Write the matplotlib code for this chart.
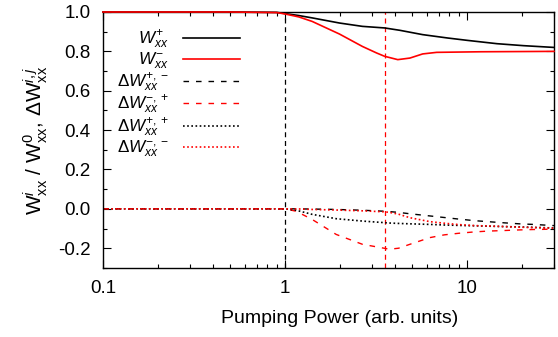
import matplotlib
matplotlib.use('Agg')
import matplotlib.pyplot as plt
from matplotlib.ticker import MultipleLocator, FixedLocator, FixedFormatter

plt.rcParams['font.family'] = ['Liberation Sans', 'DejaVu Sans']
plt.rcParams['mathtext.fontset'] = 'custom'
plt.rcParams['mathtext.rm'] = 'Liberation Sans'
plt.rcParams['mathtext.it'] = 'Liberation Sans:italic'
plt.rcParams['mathtext.sf'] = 'Liberation Sans'

# ── data ─────────────────────────────────────────────────────────────────────
x_wp = [0.1, 0.5, 0.9, 1.0, 1.19, 1.41, 1.99, 2.66, 3.52, 4.27, 5.7, 7.8, 10.0, 14.6, 20.4, 30.0]
w_plus = [1.0, 1.0, 0.998, 0.992, 0.982, 0.97, 0.944, 0.927, 0.919, 0.907, 0.885, 0.868,
          0.856, 0.839, 0.829, 0.820]

x_wm = [0.1, 0.5, 0.9, 1.0, 1.19, 1.41, 1.99, 2.66, 3.18, 3.52, 4.16, 4.85, 5.7, 6.8, 11.9, 30.0]
w_minus = [1.0, 1.0, 0.997, 0.99, 0.975, 0.952, 0.888, 0.825, 0.792, 0.775, 0.758, 0.766,
           0.787, 0.795, 0.798, 0.800]

x_d = [0.1, 0.5, 1.0, 1.15, 1.41, 1.91, 2.66, 3.5, 3.75, 4.2, 4.85, 6.25, 7.5, 9.0, 11.0,
       13.0, 16.0, 19.3, 23.0, 30.0]
dw_pm = [0.0, 0.0, 0.0, 0.0, -0.001, -0.003, -0.007, -0.012, -0.014, -0.018, -0.025, -0.036,
         -0.044, -0.052, -0.060, -0.065, -0.071, -0.076, -0.079, -0.085]
dw_mp = [0.0, 0.0, 0.0, -0.012, -0.054, -0.13, -0.18, -0.2, -0.205, -0.20, -0.18, -0.146,
         -0.132, -0.124, -0.117, -0.113, -0.11, -0.107, -0.105, -0.103]
dw_pp = [0.0, 0.0, 0.0, -0.007, -0.028, -0.05, -0.062, -0.07, -0.072, -0.074, -0.076, -0.079,
         -0.082, -0.084, -0.086, -0.088, -0.09, -0.092, -0.094, -0.097]
dw_mm = [0.0, 0.0, 0.0, 0.0, -0.003, -0.006, -0.010, -0.015, -0.018, -0.027, -0.045, -0.065,
         -0.073, -0.08, -0.085, -0.087, -0.09, -0.093, -0.095, -0.098]

x_vlines = [1.0, 3.52]

labels = [r'$\mathit{W}^{+}_{\mathit{xx}}$',
          r'$\mathit{W}^{-}_{\mathit{xx}}$',
          r'$\mathit{\Delta W}^{+,-}_{\mathit{xx}}$',
          r'$\mathit{\Delta W}^{-,+}_{\mathit{xx}}$',
          r'$\mathit{\Delta W}^{+,+}_{\mathit{xx}}$',
          r'$\mathit{\Delta W}^{-,-}_{\mathit{xx}}$']

fig = plt.figure(figsize=(5.58, 3.37), dpi=100)
ax = fig.add_axes([0.1846, 0.205, 0.8082, 0.7594])

ax.axvline(x_vlines[0], color='black', lw=0.9, ls=(0, (4, 3)), zorder=1)
ax.axvline(x_vlines[1], color='red', lw=0.9, ls=(0, (4, 3)), zorder=1)

ax.plot(x_wp, w_plus, color='black', lw=1.2, label=labels[0], clip_on=False, zorder=3)
ax.plot(x_wm, w_minus, color='red', lw=1.2, label=labels[1], clip_on=False, zorder=3)
ax.plot(x_d, dw_pm, color='black', lw=1.0, ls=(0, (4, 5)), label=labels[2])
ax.plot(x_d, dw_mp, color='red', lw=1.0, ls=(0, (4, 5)), label=labels[3])
ax.plot(x_d, dw_pp, color='black', lw=1.2, ls=(0, (1, 1.5)), label=labels[4])
ax.plot(x_d, dw_mm, color='red', lw=1.2, ls=(0, (1, 1.5)), label=labels[5])

ax.set_xscale('log')
ax.set_xlim(0.1, 30)
ax.set_ylim(-0.3, 1.0)
ax.yaxis.set_major_locator(FixedLocator([-0.2, 0.0, 0.2, 0.4, 0.6, 0.8, 1.0]))
ax.yaxis.set_major_formatter(FixedFormatter(['-0.2', '0.0', '0.2', '0.4', '0.6', '0.8', '1.0']))
ax.yaxis.set_minor_locator(MultipleLocator(0.1))
ax.xaxis.set_major_locator(FixedLocator([0.1, 1, 10]))
ax.xaxis.set_major_formatter(FixedFormatter(['0.1', '1', '10']))

ax.tick_params(which='both', direction='in', top=True, right=True, labelsize=13.5,
               width=0.8, pad=9)
ax.tick_params(which='major', length=6)
ax.tick_params(which='minor', length=3)
for s in ax.spines.values():
    s.set_linewidth(1.0)

ax.set_xlabel('Pumping Power (arb. units)', fontsize=14, labelpad=9, x=0.525)
ax.set_ylabel(r'$\mathrm{W}^{i}_{\mathrm{xx}}\ /\ \mathrm{W}^{0}_{\mathrm{xx}}$, '
              r'$\Delta\mathrm{W}^{i,j}_{\mathrm{xx}}$', fontsize=15, labelpad=6)

leg = ax.legend(loc='upper left', bbox_to_anchor=(0.0, 0.99), frameon=False,
                markerfirst=False, fontsize=12.3, handlelength=3.3, labelspacing=0.0,
                handletextpad=0.88, borderpad=0.3)

plt.savefig('out.png', dpi=100)
